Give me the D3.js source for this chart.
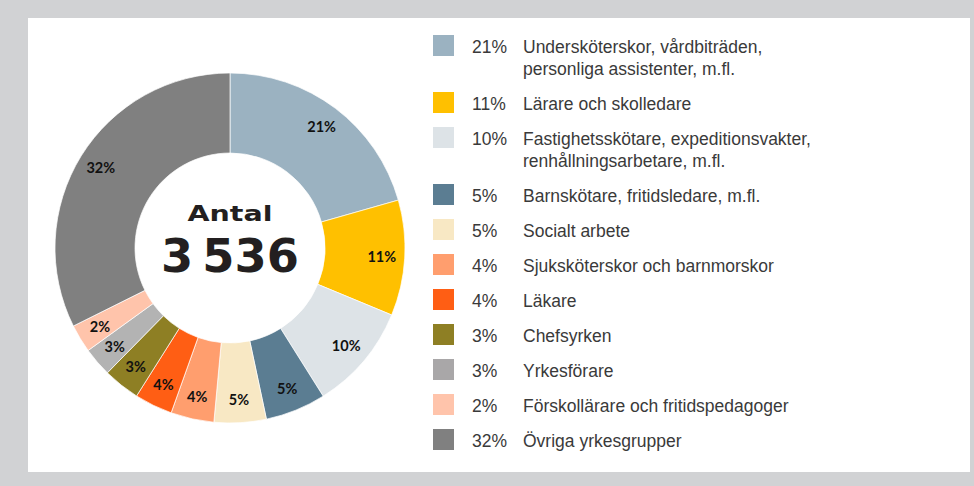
<!DOCTYPE html>
<html><head><meta charset="utf-8">
<script src="https://cdn.jsdelivr.net/npm/d3@7"></script>
<style>html,body{margin:0;padding:0;background:#d1d2d4;}svg{display:block;}</style>
</head><body>
<svg id="c" width="974" height="486"></svg>
<script>
const categories = [
  "Undersköterskor, vårdbiträden,\npersonliga assistenter, m.fl.",
  "Lärare och skolledare",
  "Fastighetsskötare, expeditionsvakter,\nrenhållningsarbetare, m.fl.",
  "Barnskötare, fritidsledare, m.fl.",
  "Socialt arbete",
  "Sjuksköterskor och barnmorskor",
  "Läkare",
  "Chefsyrken",
  "Yrkesförare",
  "Förskollärare och fritidspedagoger",
  "Övriga yrkesgrupper"
];
// rounded shares shown as labels
const shares = [21, 11, 10, 5, 5, 4, 4, 3, 3, 2, 32];
// estimated counts (sizes of slices), total 3 536
const counts = [728, 377, 347, 198, 170, 141, 124, 120, 95, 92, 1144];
const sliceColors = ["#9bb2c1","#ffc000","#dde3e7","#5b7d92","#f8e8c4","#ff9e6e","#ff5e14","#8e7f24","#b3b3b3","#ffc4ab","#808080"];
const legendColors = ["#9bb2c1","#ffc000","#dde3e7","#5b7d92","#f8e8c4","#ff9e6e","#ff5e14","#8e7f24","#a9a7a8","#ffc4ab","#808080"];
const totalLabel = "Antal";
const totalValue = "3 536";

const svg = d3.select("#c");
svg.append("rect").attr("x",0).attr("y",0).attr("width",974).attr("height",486).attr("fill","#d1d2d4");
svg.append("rect").attr("x",28).attr("y",18).attr("width",942).attr("height",454).attr("fill","#ffffff");

const cx = 230, cy = 248, rOuter = 175, rInner = 95;
const data = counts.map((v,i)=>({v, i, pct: shares[i], name: categories[i]}));
const pie = d3.pie().value(d=>d.v).sort(null).startAngle(0).endAngle(2*Math.PI);
const arcs = pie(data);
const arc = d3.arc().innerRadius(rInner).outerRadius(rOuter);
const labelArc = d3.arc().innerRadius(152).outerRadius(152);

const g = svg.append("g").attr("transform",`translate(${cx},${cy})`);
g.selectAll("path").data(arcs).join("path")
  .attr("d", arc)
  .attr("fill", d=>sliceColors[d.data.i])
  .attr("stroke","#ffffff").attr("stroke-width",0.7);

g.selectAll("text.pl").data(arcs).join("text").attr("class","pl")
  .attr("transform", d=>`translate(${labelArc.centroid(d)})`)
  .attr("text-anchor","middle").attr("dy","0.36em")
  .attr("font-family","Lato, 'Open Sans', sans-serif").attr("font-weight","bold")
  .attr("font-size",14.5).attr("fill","#111")
  .text(d=>d.data.pct+"%");

g.append("text").attr("x",0).attr("y",-27).attr("text-anchor","middle")
  .attr("font-family","'DejaVu Sans', sans-serif").attr("font-weight","bold")
  .attr("font-size",22).attr("fill","#231f20")
  .attr("textLength",85).attr("lengthAdjust","spacingAndGlyphs")
  .text(totalLabel);
g.append("text").attr("x",0).attr("y",24).attr("text-anchor","middle")
  .attr("font-family","'DejaVu Sans', sans-serif").attr("font-weight","bold")
  .attr("font-size",46).attr("fill","#231f20")
  .attr("word-spacing",-7)
  .attr("textLength",138).attr("lengthAdjust","spacingAndGlyphs")
  .text(totalValue);

// legend
const leg = svg.append("g");
let y = 53;
data.forEach((d,i)=>{
  const lines = d.name.split("\n");
  leg.append("rect").attr("x",433).attr("y",y-18).attr("width",21).attr("height",21).attr("fill",legendColors[i]);
  leg.append("text").attr("x",472).attr("y",y)
    .attr("font-family","'Liberation Sans', Arial, sans-serif").attr("font-size",17.5).attr("fill","#3a3a3a")
    .text(d.pct+"%");
  const t = leg.append("text").attr("x",523).attr("y",y)
    .attr("font-family","'Liberation Sans', Arial, sans-serif").attr("font-size",17.5).attr("fill","#3a3a3a");
  lines.forEach((ln,k)=>{
    t.append("tspan").attr("x",523).attr("y",y+k*22).text(ln);
  });
  y += 35 + (lines.length-1)*22;
});
</script>
</body></html>
